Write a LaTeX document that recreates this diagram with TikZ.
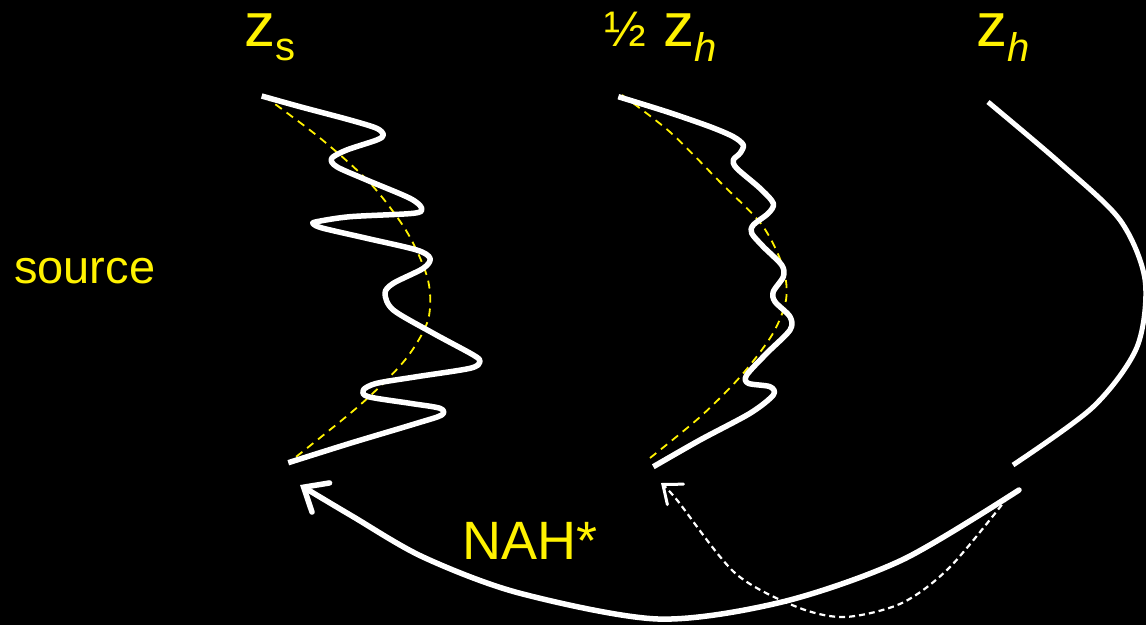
\documentclass[tikz,border=0pt]{standalone}
\usepackage{fontspec}
\setmainfont{Liberation Sans}
\usetikzlibrary{arrows.meta}
\begin{document}
\begin{tikzpicture}[x=1pt,y=-1pt,
  lbl/.style={text=yellow,inner sep=0pt,anchor=base west},
  wig/.style={draw=white,line width=5.5pt,line cap=butt,line join=round},
  guide/.style={draw=yellow,line width=1.8pt,dash pattern=on 8pt off 6pt},
  prop/.style={draw=white,line width=5.5pt,line cap=round,-{Straight Barb[length=20pt,width=34pt,line cap=round,line width=5.5pt]}},
  propd/.style={draw=white,line width=2.2pt,dash pattern=on 6pt off 4pt,-{Straight Barb[length=16pt,width=26pt,line cap=round,line width=3pt]}}]
\fill[black] (0,0) rectangle (1146,625);
\useasboundingbox (0,0) rectangle (1146,625);
% labels
\node[lbl,font=\fontsize{62}{62}\selectfont] (zs) at (244,46) {z\raisebox{-14pt}{\fontsize{40}{40}\selectfont s}};
\node[lbl,font=\fontsize{62}{62}\selectfont] (hzh) at (604,46) {{\fontsize{50}{50}\selectfont ½} z\raisebox{-15pt}{\fontsize{40}{40}\selectfont\itshape h}};
\node[lbl,font=\fontsize{62}{62}\selectfont] (zh) at (976,46) {z\raisebox{-15pt}{\fontsize{40}{40}\selectfont\itshape h}};
\node[lbl,font=\fontsize{47}{47}\selectfont] (src) at (14,283) {source};
\node[lbl,font=\fontsize{54}{54}\selectfont] (nah) at (462,559) {NAH*};
% guides (yellow dashed)
\draw[guide] plot[smooth] coordinates {(264,96) (320,138) (370,183) (407,232) (428,280) (428,320) (405,360) (360,405) (292,460)};
\draw[guide] plot[smooth] coordinates {(622,95) (670,132) (720,182) (762,225) (783,267) (786,300) (772,335) (740,377) (700,417) (650,458)};
% left wiggly curve (source plane)
\draw[wig] plot[smooth,tension=0.5] coordinates {(261.7,96) (300,106.7) (350,120) (376.7,128.3) (383.3,135) (376.7,140) (346.7,150) (331.7,158.3) (336.7,166.7) (366.7,180) (410,198.3) (421.7,208.3) (413.3,213.3) (350,216.7) (316.7,221.7) (313.3,224) (323.3,228.3) (366.7,238.3) (416.7,250) (430,258.3) (423.3,268.3) (393.3,283.3) (385,293.3) (393.3,310) (433.3,333.3) (473.3,355) (480,361.7) (470,368.3) (416.7,376.7) (376.7,383.3) (363.3,390) (368.3,396.7) (410,403.3) (440,408.3) (441.7,415) (416.7,423.3) (350,443.3) (288.3,462.7)};
% middle wiggly curve
\draw[wig] plot[smooth,tension=0.5] coordinates {(618.3,96.7) (666.7,111.7) (710,126.7) (733.3,136.7) (743.3,145) (740,153.3) (733.3,160) (736.7,168.3) (760,188.3) (773.3,203.3) (768.3,213.3) (753.3,225) (751.7,233.3) (763.3,246.7) (781.7,265) (783.3,276.7) (773.3,291.7) (775,301.7) (790,316.7) (790,330) (766.7,353.3) (746.7,375) (748.3,383.3) (770,386.7) (773.3,395) (750,413.3) (700,440) (653.3,466.7)};
% right smooth curve (hologram)
\draw[draw=white,line width=5pt] plot[smooth] coordinates {(988,102) (1060,163) (1120,220) (1145,280) (1137,347) (1093,407) (1013,465)};
% arrows
\coordinate (a0) at (1019,490);
\coordinate (a1) at (300,485);
\coordinate (b0) at (1008,497);
\coordinate (b1) at (661,483);
\draw[prop] plot[smooth] coordinates {(a0) (902,560) (782,602) (658,619) (519,593) (423,557) (352,516) (a1)};
\draw[propd] plot[smooth] coordinates {(b0) (950,567) (902,603) (845,617) (797,607) (735,573) (677,500) (b1)};
\end{tikzpicture}
\end{document}
